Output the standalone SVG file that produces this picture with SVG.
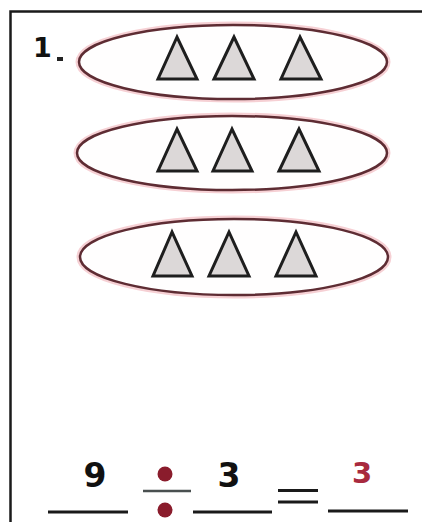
<svg xmlns="http://www.w3.org/2000/svg" width="422" height="522" viewBox="0 0 422 522">
<style>
.halo{fill:none;stroke:#f6d0d4;stroke-width:7}
.oval{fill:#fffefe;stroke:#5e2c33;stroke-width:2.5}
.tri{fill:#dcd8d8;stroke:#1e1e1e;stroke-width:3;stroke-linejoin:miter}
.num{font-family:"DejaVu Sans",Verdana,sans-serif;font-weight:bold}
.line{stroke:#1a1a1a;stroke-width:3}
</style>
<rect x="0" y="0" width="422" height="522" fill="#ffffff"/>
<g id="frame">
<path d="M10.5 522 V11.5 H422" fill="none" stroke="#1a1a1a" stroke-width="2.5"/>
</g>
<g id="label">
<text class="num" x="33" y="57" font-size="27" fill="#111">1</text>
<rect x="57" y="57" width="6" height="4" fill="#222"/>
</g>
<g id="group1">
<ellipse class="halo" cx="233" cy="62" rx="154" ry="37"/>
<ellipse class="oval" cx="233" cy="62" rx="154" ry="37"/>
<polygon class="tri" points="177,37 158,79 197,79"/>
<polygon class="tri" points="234,37 214,79 254,79"/>
<polygon class="tri" points="300,37 281,79 321,79"/>
</g>
<g id="group2">
<ellipse class="halo" cx="232" cy="153" rx="155" ry="37"/>
<ellipse class="oval" cx="232" cy="153" rx="155" ry="37"/>
<polygon class="tri" points="177,129 158,171 197,171"/>
<polygon class="tri" points="232,129 213,171 252,171"/>
<polygon class="tri" points="299,129 279,171 319,171"/>
</g>
<g id="group3">
<ellipse class="halo" cx="234" cy="257" rx="154" ry="38"/>
<ellipse class="oval" cx="234" cy="257" rx="154" ry="38"/>
<polygon class="tri" points="172,232 153,276 192,276"/>
<polygon class="tri" points="229,232 209,276 249,276"/>
<polygon class="tri" points="296,232 276,276 316,276"/>
</g>
<g id="equation">
<line class="line" x1="48" y1="512" x2="128" y2="512"/>
<text class="num" x="95" y="487" font-size="33" fill="#111" text-anchor="middle">9</text>
<circle cx="165" cy="474" r="7.5" fill="#8a1c2c"/>
<line x1="143" y1="491" x2="191" y2="491" stroke="#4a5050" stroke-width="2.5"/>
<circle cx="165" cy="510" r="7.5" fill="#8a1c2c"/>
<line class="line" x1="193" y1="512" x2="272" y2="512"/>
<text class="num" x="229" y="487" font-size="33" fill="#111" text-anchor="middle">3</text>
<line class="line" x1="278" y1="490.5" x2="318" y2="490.5"/>
<line class="line" x1="278" y1="502" x2="318" y2="502"/>
<line class="line" x1="328" y1="511" x2="408" y2="511"/>
<text class="num" x="362" y="483" font-size="29" fill="#a82a3e" text-anchor="middle">3</text>
</g>
</svg>
